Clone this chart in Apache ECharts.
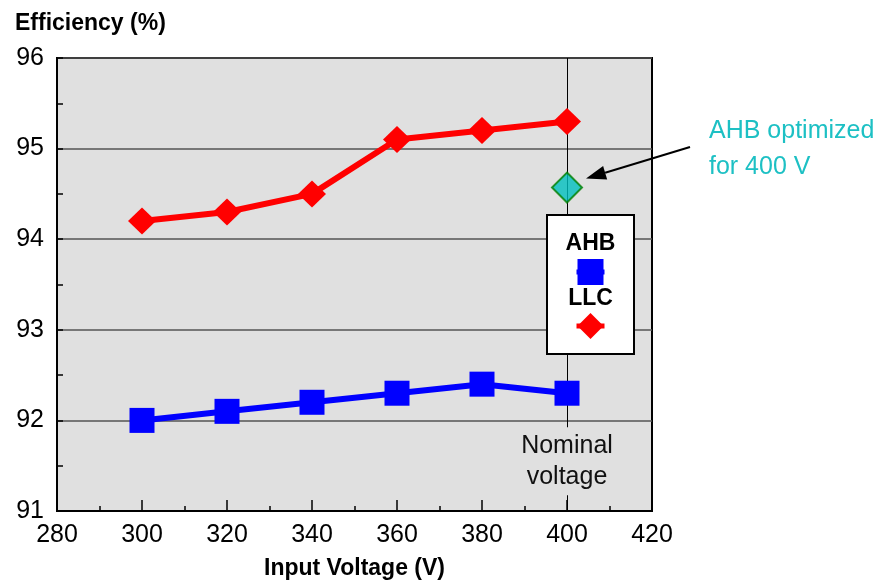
<!DOCTYPE html>
<html>
<head>
<meta charset="utf-8">
<script src="https://cdn.jsdelivr.net/npm/echarts@6/dist/echarts.min.js"></script>
<style>
  html, body { margin: 0; background: #fff; }
  #chart { width: 884px; height: 580px; }
</style>
</head>
<body>
<div id="chart"></div>
<script>
// data
const voltages = [300, 320, 340, 360, 380, 400];
const llcEff = [94.2, 94.3, 94.5, 95.1, 95.2, 95.3];
const ahbEff = [92.0, 92.1, 92.2, 92.3, 92.4, 92.3];
const ahbOptimized = [[400, 94.57]];
const nominalVoltage = 400;

const FONT = "'Liberation Sans', Arial, sans-serif";
const PLOT_BG = "#e0e0e0";

const chart = echarts.init(document.getElementById("chart"), null, { renderer: "canvas" });

const pairs = (ys) => voltages.map((v, i) => [v, ys[i]]);

chart.setOption({
    animation: false,
    backgroundColor: "#fff",
    textStyle: { fontFamily: FONT },
    grid: {
        left: 57, right: 232, top: 58, bottom: 69,
        outerBoundsMode: "none", containLabel: false,
        show: true, backgroundColor: PLOT_BG,
        borderColor: "#000", borderWidth: 2,
    },
    xAxis: {
        type: "value", min: 280, max: 420, interval: 20,
        name: "Input Voltage (V)", nameLocation: "middle", nameGap: 46,
        nameTextStyle: { fontSize: 23, fontWeight: "bold", color: "#000", fontFamily: FONT },
        axisLine: { lineStyle: { color: "#000", width: 2 } },
        axisTick: { inside: true, length: 11, lineStyle: { color: "#000", width: 1.5 } },
        minorTick: { show: true, splitNumber: 2, length: 5, lineStyle: { color: "#000", width: 1.5 } },
        axisLabel: { fontSize: 25, color: "#000", margin: 12, fontFamily: FONT },
        splitLine: { show: false },
    },
    yAxis: {
        type: "value", min: 91, max: 96, interval: 1,
        name: "Efficiency (%)", nameLocation: "end", nameGap: 23,
        nameTextStyle: { fontSize: 23, fontWeight: "bold", color: "#000", align: "left",
            padding: [0, 0, 0, -42], fontFamily: FONT },
        axisLine: { lineStyle: { color: "#000", width: 2 } },
        axisTick: { inside: true, length: 6, lineStyle: { color: "#000", width: 1.5 } },
        minorTick: { show: true, splitNumber: 2, length: 6, lineStyle: { color: "#000", width: 1.5 } },
        axisLabel: { fontSize: 25, color: "#000", margin: 13, fontFamily: FONT },
        splitLine: { show: true, lineStyle: { color: "#555", width: 1.5 } },
    },
    series: [
        {
            name: "AHB", type: "line", data: pairs(ahbEff), z: 3,
            symbol: "rect", symbolSize: 25,
            lineStyle: { color: "#0000ff", width: 6 },
            itemStyle: { color: "#0000ff" },
            markLine: {
                silent: true, symbol: "none", label: { show: false },
                lineStyle: { color: "#000", width: 1, type: "solid" },
                data: [{ xAxis: nominalVoltage }],
                z: 1,
            },
        },
        {
            name: "LLC", type: "line", data: pairs(llcEff), z: 3,
            symbol: "diamond", symbolSize: [28, 27],
            lineStyle: { color: "#ff0000", width: 6 },
            itemStyle: { color: "#ff0000" },
        },
        {
            name: "AHB optimized", type: "scatter", data: ahbOptimized, z: 4,
            symbol: "diamond", symbolSize: 30,
            itemStyle: { color: "#00bfbf", borderColor: "#008000", borderWidth: 2 },
        },
    ],
});

// annotations: legend box, arrow, callout text
const pOpt = chart.convertToPixel({ gridIndex: 0 }, ahbOptimized[0]);
const pNom = chart.convertToPixel({ gridIndex: 0 }, [nominalVoltage, 91.55]);
const tip = [pOpt[0] + 19, pOpt[1] - 9];
const tail = [690, 147];
const dx = tip[0] - tail[0], dy = tip[1] - tail[1];
const len = Math.hypot(dx, dy);
const ux = dx / len, uy = dy / len;
const headLen = 20, headW = 7;
const base = [tip[0] - ux * headLen, tip[1] - uy * headLen];

const lx = 547, ly = 215, lw = 87, lh = 139;
const cx = lw / 2;
const TOP = 100;

chart.setOption({
    graphic: [
        {
            type: "text", x: pNom[0], y: pNom[1], z: TOP,
            style: {
                text: "Nominal\nvoltage", fontSize: 25, fontFamily: FONT, fill: "#111",
                align: "center", verticalAlign: "middle", lineHeight: 31,
                backgroundColor: PLOT_BG, padding: [3, 2],
            },
        },
        {
            type: "line", z: TOP,
            shape: { x1: tail[0], y1: tail[1], x2: base[0], y2: base[1] },
            style: { stroke: "#000", lineWidth: 2 },
        },
        {
            type: "polygon", z: TOP,
            shape: { points: [
                tip,
                [base[0] - uy * headW, base[1] + ux * headW],
                [base[0] + uy * headW, base[1] - ux * headW],
            ] },
            style: { fill: "#000" },
        },
        {
            type: "text", x: 709, y: 113, z: TOP,
            style: {
                text: "AHB optimized\nfor 400 V", fontSize: 25, fontFamily: FONT,
                fill: "#1dc0c4", lineHeight: 36,
            },
        },
        { type: "rect", z: TOP, shape: { x: lx, y: ly, width: lw, height: lh },
          style: { fill: "#fff", stroke: "#000", lineWidth: 2 } },
        { type: "text", z: TOP + 1, x: lx + cx, y: ly + 29,
          style: { text: "AHB", fontSize: 23, fontWeight: "bold", fontFamily: FONT, fill: "#000",
                   align: "center", verticalAlign: "middle" } },
        { type: "line", z: TOP + 1, shape: { x1: lx + cx - 14, y1: ly + 57, x2: lx + cx + 14, y2: ly + 57 },
          style: { stroke: "#0000ff", lineWidth: 5 } },
        { type: "rect", z: TOP + 2, shape: { x: lx + cx - 13, y: ly + 44, width: 26, height: 26 },
          style: { fill: "#0000ff" } },
        { type: "text", z: TOP + 1, x: lx + cx, y: ly + 84,
          style: { text: "LLC", fontSize: 23, fontWeight: "bold", fontFamily: FONT, fill: "#000",
                   align: "center", verticalAlign: "middle" } },
        { type: "line", z: TOP + 1, shape: { x1: lx + cx - 14, y1: ly + 111, x2: lx + cx + 14, y2: ly + 111 },
          style: { stroke: "#ff0000", lineWidth: 5 } },
        { type: "polygon", z: TOP + 2, shape: { points: [[lx + cx, ly + 98], [lx + cx + 13, ly + 111], [lx + cx, ly + 124], [lx + cx - 13, ly + 111]] },
          style: { fill: "#ff0000" } },
    ],
});
</script>
</body>
</html>
